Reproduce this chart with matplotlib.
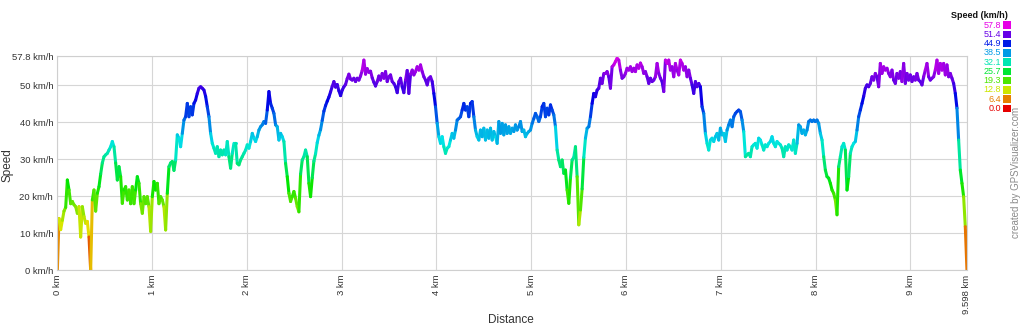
import numpy as np
import matplotlib
matplotlib.use("Agg")
import matplotlib.pyplot as plt
import matplotlib.colors as mcolors
from matplotlib.collections import LineCollection

track_length_km = 9.598
speed_kmh = [
    0,
    # 0 - 1.9 km
    14, 11, 13.5, 16, 17, 24.4, 21.7, 18, 18.6, 17.7,
    17.2, 15.4, 17.2, 9, 17.2, 14.5, 12.7, 13.2, 9, 0,
    19, 21.7, 16, 20.8, 22.6, 26, 29, 30.7, 31.2, 31.6,
    32.5, 33.4, 34.8, 33.4, 29, 24.4, 28, 25.3, 18.1, 21.7,
    22.6, 19, 21.7, 18, 22.6, 18, 21.7, 25.3, 23.5, 18,
    15.4, 19.9, 18, 19.9, 17.2, 10.5, 19.9, 24, 21.7, 23.5,
    18, 19.9, 19, 17.2, 10.9, 20.8, 28, 29, 29.4, 27,
    29.8, 36.6, 35.7, 33.4, 37, 40.6, 41.5, 45.1, 41.5, 44.2,
    42, 45.1, 46, 47.8, 49.2, 49.6, 49.2, 48.7, 47, 44.2,
    41.5, 37, 34.3, 33, 31.6, 33.4, 30.7, 32.5, 31.2, 32.5,
    31.2, 34.8, 30.7, 27.6, 31.6, 34.3,
    # 1.9 - 3.8 km
    34.3, 28.9, 28.5, 29.8, 30.7, 31.6, 32.5, 33.9, 33, 34.8,
    37, 35.7, 34.8, 36.1, 37.9, 38.8, 39.3, 40.2, 39.7, 43.3,
    48.3, 45.1, 43.8, 42.4, 39.3, 38.8, 35.2, 37, 36.1, 34.8,
    28.9, 25.3, 20.8, 18.6, 19.9, 21.3, 19.5, 17.2, 15.8, 26,
    29.8, 30.7, 32.5, 30.7, 23.5, 19.9, 25, 29.5, 31.5, 34.5,
    36.5, 38, 40.5, 43, 44.5, 45.7, 46.8, 48.2, 49.7, 51,
    49.5, 50.2, 48.5, 47.2, 48.7, 49.6, 50.2, 51.8, 53, 51.7,
    51.4, 51.9, 51, 51.9, 51.4, 52.5, 54, 56.8, 53, 54.5,
    53.5, 53.8, 52, 50.8, 49.8, 51, 52.5, 51.4, 53.2, 51.9,
    53.7, 51, 52.3, 52.8, 51, 50.5, 49.6, 48, 51, 51.9,
    49.6, 48, 51.4, 54, 47.8, 53, 54.1, 52.8, 53.7, 55,
    54.1,
    # 3.8 - 5.8 km
    55.5, 53.7, 52.3, 51.4, 50.1, 51.9, 52.3, 51, 47.8, 44.2,
    39.7, 36.1, 34.3, 36.1, 33.4, 31.6, 33, 33.4, 35.2, 37,
    35.7, 37.9, 40.6, 41, 41.5, 43.3, 45.1, 43.3, 44.2, 41.5,
    45.1, 45.6, 41.5, 37.9, 36.1, 35.2, 37.9, 36.1, 38.4, 35.2,
    37.9, 35.7, 38.4, 35.2, 37.5, 36.1, 34.3, 40.2, 37, 39.7,
    36.6, 39.3, 37, 38.8, 37, 38.4, 37.5, 39.3, 37.9, 38.8,
    40.2, 37.5, 37.9, 36.1, 37, 37.5, 37.9, 39.7, 41, 42.4,
    41.5, 40.2, 41.5, 44.2, 45.1, 41.5, 43.8, 42, 44.7, 43.3,
    42, 38.8, 32.5, 29.8, 28, 29.8, 26.2, 27.1, 21.7, 18.1,
    25, 29.8, 30.5, 33.4, 25.3, 12.3, 16.3, 22, 30.5, 35.7,
    38.4, 38.8, 41.5, 45.1, 47.8, 46.9, 48.7, 49.2, 51.9, 50.5,
    53.2,
    # 5.8 - 7.7 km
    53.2, 53.7, 52.3, 49.2, 55, 55.5, 56.4, 57.3, 56.8, 54.1,
    51.9, 52.3, 53.2, 54.6, 54.1, 55, 53.7, 54.6, 53.7, 55.5,
    54.6, 56, 55, 53.2, 53.7, 52.3, 50.5, 51.9, 51, 51.4,
    52.3, 55.9, 53.2, 51.9, 51, 48.3, 56.8, 55.9, 56.8, 54.1,
    55, 52.3, 55.9, 54.1, 52.8, 56.8, 55.9, 54.1, 55, 52.3,
    54.1, 51.9, 50.1, 47.8, 51, 49.6, 50.5, 49.6, 44.2, 42.4,
    37, 34.3, 32.5, 35.2, 35.7, 34.8, 36.1, 37, 35.2, 38.4,
    36.6, 37, 34.8, 37.9, 39.3, 40.6, 38.8, 41.5, 42.4, 42.9,
    43.3, 42.9, 40.6, 37.5, 30.7, 31.2, 31.6, 30.7, 33.4, 33.9,
    34.3, 33, 35.7, 35.2, 33.9, 32.5, 33.9, 33.4, 34.3, 34.8,
    36.1, 34.3, 33.4, 34.8, 34.3, 33.9, 33, 30.7, 33.4, 32.5,
    33.9,
    # 7.7 - 9.598 km
    33.4, 32.5, 35.2, 31.6, 34.3, 39.3, 38.8, 37, 37.9, 36.6,
    37.9, 40.2, 40.6, 40.2, 40.6, 40.2, 40.6, 39.7, 37, 35.2,
    30.7, 27.1, 25.3, 24.9, 23.5, 21.7, 20.8, 19, 15, 28,
    30.7, 33.4, 34.3, 32.5, 21.7, 25.3, 31.6, 33.4, 34.3, 34.8,
    37.9, 41.5, 43.3, 45.1, 47, 49.2, 50.1, 49.6, 50.5, 52.3,
    51.4, 53.2, 52.3, 49.6, 55.9, 53.2, 55, 54.1, 54.6, 53.2,
    52.3, 54.1, 51.4, 50.5, 53.2, 51.9, 53.7, 51, 55.9, 50.5,
    53.2, 51.4, 52.8, 51, 52.3, 51.4, 53.2, 51.4, 51, 50.1,
    52.3, 54.1, 55.9, 52.3, 51.4, 51.9, 52.3, 54.1, 56.8, 53.2,
    55.9, 54.1, 55.9, 52.8, 55.5, 52.3, 53.2, 51.9, 50.5, 47.8,
    43.8, 35.2, 27.1, 23.5, 19.9, 11.8, 0,
]

y_ticks = [0, 10, 20, 30, 40, 50, 57.8]
y_labels = ['0 km/h', '10 km/h', '20 km/h', '30 km/h', '40 km/h', '50 km/h', '57.8 km/h']
x_ticks = [0, 1, 2, 3, 4, 5, 6, 7, 8, 9, 9.598]
x_labels = ['0 km', '1 km', '2 km', '3 km', '4 km', '5 km', '6 km', '7 km', '8 km', '9 km', '9.598 km']
legend_values = [57.8, 51.4, 44.9, 38.5, 32.1, 25.7, 19.3, 12.8, 6.4, 0.0]

speed = np.array(speed_kmh, dtype=float)
dist = np.linspace(0, track_length_km, len(speed))
vmax = 57.8


def speed_color(v):
    # red -> orange -> yellow -> green -> cyan -> blue -> violet -> magenta
    h = np.clip(v / vmax, 0, 1) * 300.0 / 360.0
    return mcolors.hsv_to_rgb(np.stack([h, np.full_like(h, 1.0), np.full_like(h, 0.9)], axis=-1))


plt.rcParams['font.family'] = ['Liberation Sans', 'DejaVu Sans']
txt = '#333333'

fig = plt.figure(figsize=(10.24, 3.27), dpi=100)
ax = fig.add_axes([0.056, 0.1734, 0.8883, 0.6541])

#coloured speed track
pts = np.column_stack([dist, speed]).reshape(-1, 1, 2)
segs = np.concatenate([pts[:-1], pts[1:]], axis=1)
seg_speed = (speed[:-1] + speed[1:]) / 2.0
lc = LineCollection(segs, colors=speed_color(seg_speed), linewidths=2.2, capstyle='round', joinstyle='round')
ax.add_collection(lc)

ax.set_xlim(0, track_length_km)
ax.set_ylim(0, vmax)

ax.set_yticks(y_ticks)
ax.set_yticklabels(y_labels, fontsize=6.8, color=txt)
ax.set_xticks(x_ticks)
ax.set_xticklabels(x_labels, fontsize=6.8, rotation=90, color=txt)
ax.tick_params(length=0, pad=3)
ax.grid(True, color='#d6d6d6', linewidth=0.8)
ax.set_axisbelow(True)
for s in ax.spines.values():
    s.set_color('#cfcfcf')
    s.set_linewidth(0.8)

fig.text(8 / 1024, 1 - 165 / 327, 'Speed', rotation=90, ha='center', va='center', fontsize=8.5, color=txt)
fig.text(511 / 1024, 1 - 320 / 327, 'Distance', ha='center', va='center', fontsize=8.5, color=txt)

#legend in the top right corner
fig.text(979 / 1024, 1 - 15 / 327, 'Speed (km/h)', ha='center', va='center', fontsize=6.5, weight='bold', color='#111111')
leg_cols = speed_color(np.array(legend_values))
for i, val in enumerate(legend_values):
    yy = 1 - (25 + i * 9.26) / 327
    fig.text(1001 / 1024, yy, '{:.1f}'.format(val), ha='right', va='center', fontsize=6.5, color=leg_cols[i])
    fig.patches.append(plt.Rectangle((1003 / 1024, yy - 3.8 / 327), 7.5 / 1024, 7.5 / 327,
                                     transform=fig.transFigure, facecolor=leg_cols[i], edgecolor='none'))

fig.text(1016 / 1024, 1 - 107 / 327, 'created by GPSVisualizer.com', rotation=90, ha='center', va='top',
         fontsize=7, color='#8a8a8a')

plt.savefig('out.png', dpi=100, facecolor='white')
